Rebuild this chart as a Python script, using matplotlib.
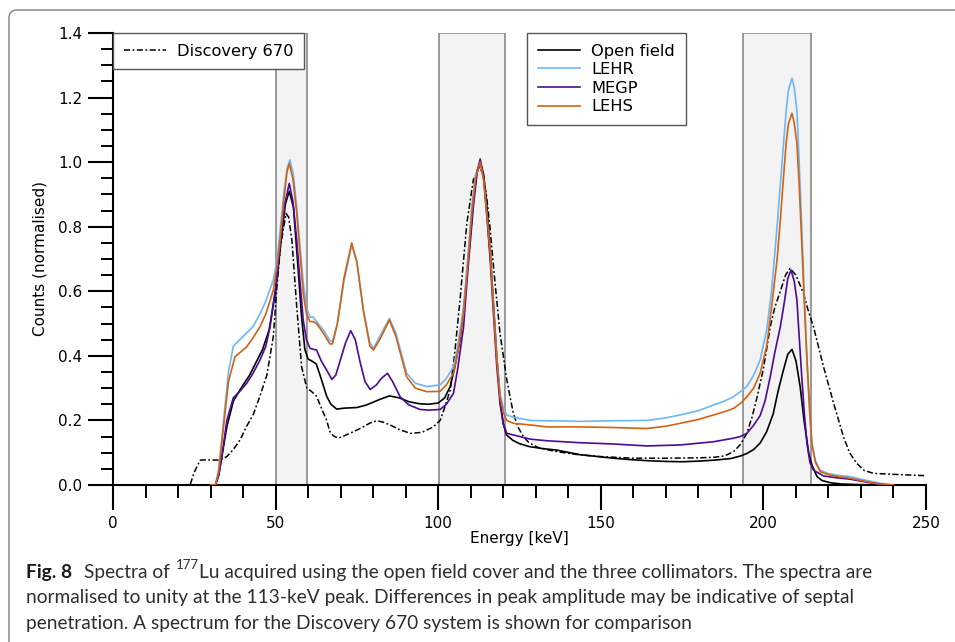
"""
Lu-177 spectra: open field vs three collimators, plus a Discovery 670 reference.
Values read off the published figure (normalised at the 113-keV peak).
"""
import matplotlib
matplotlib.use("Agg")
import matplotlib.pyplot as plt
from matplotlib.patches import Rectangle, FancyBboxPatch
from matplotlib.ticker import MultipleLocator

# --- data -------------------------------------------------------------------
open_e = [30, 31.5, 32.5, 33.5, 35, 37, 40, 42, 44, 46, 48, 50, 51.5, 53, 54.2,
          55.5, 57, 58, 59, 60, 61, 62.5, 64, 65.7, 67, 68.8, 71, 75, 78, 82,
          85, 88, 91, 94, 97, 100, 102, 103.7, 105, 106.7, 108, 109.8, 111,
          112, 113, 114, 115, 116, 117, 118, 119, 120, 121, 123, 125, 128, 132,
          136.5, 143.6, 150, 155, 160, 165, 170, 175, 180, 185, 190, 193, 195,
          197, 199, 201, 203, 204.5, 206, 207.5, 208.8, 210, 211.3, 212.5, 214,
          215, 216.5, 218, 220.6, 224, 230, 240]
open_v = [0, 0, 0.03, 0.09, 0.18, 0.26, 0.31, 0.34, 0.38, 0.42, 0.48, 0.6, 0.74,
          0.87, 0.91, 0.86, 0.66, 0.52, 0.42, 0.39, 0.385, 0.375, 0.33, 0.275,
          0.25, 0.235, 0.238, 0.24, 0.248, 0.265, 0.276, 0.27, 0.258, 0.252,
          0.25, 0.254, 0.27, 0.305, 0.36, 0.45, 0.56, 0.76, 0.9, 0.975, 1.0,
          0.96, 0.86, 0.72, 0.56, 0.4, 0.27, 0.19, 0.155, 0.138, 0.128, 0.119,
          0.113, 0.108, 0.094, 0.087, 0.082, 0.078, 0.075, 0.073, 0.072, 0.074,
          0.077, 0.082, 0.09, 0.098, 0.11, 0.13, 0.165, 0.22, 0.29, 0.35, 0.405,
          0.42, 0.385, 0.305, 0.2, 0.095, 0.06, 0.026, 0.014, 0.007, 0.003,
          0.001, 0]

lehr_e = [30, 31.5, 32.5, 34, 35.5, 37, 39, 41, 43, 45.2, 47, 49.3, 50.5, 51.4,
          52.5, 53.5, 54.4, 55.5, 56.5, 57.5, 58.5, 59.5, 60.6, 61.6, 62.6,
          64.7, 66.7, 67.5, 69, 71, 73.4, 75, 77, 79, 80.1, 82, 85, 87, 90.3,
          93, 96.5, 100.6, 102.5, 104.7, 106, 107.8, 109, 110.3, 111.5, 112.9,
          114, 115, 116, 117, 118, 119, 120, 121.1, 123.1, 128.3, 133.4, 143.6,
          153.9, 164.2, 170, 174.4, 180, 184.7, 188, 190.8, 193, 194.9, 197, 199,
          201, 202.5, 204.2, 205.2, 206.2, 207, 207.7, 208.8, 209.5, 210.3, 211,
          211.8, 212.6, 213.4, 214.2, 214.9, 216, 217.5, 220, 223, 226.7, 230,
          233.8, 237, 240]
lehr_v = [0, 0, 0.05, 0.2, 0.35, 0.43, 0.45, 0.47, 0.49, 0.53, 0.57, 0.635, 0.7,
          0.79, 0.9, 0.98, 1.007, 0.96, 0.86, 0.74, 0.625, 0.55, 0.52, 0.52,
          0.506, 0.48, 0.447, 0.445, 0.5, 0.63, 0.743, 0.69, 0.54, 0.44, 0.423,
          0.46, 0.516, 0.47, 0.346, 0.315, 0.305, 0.31, 0.33, 0.366, 0.43,
          0.552, 0.69, 0.862, 0.96, 1.0, 0.94, 0.83, 0.707, 0.55, 0.4, 0.284,
          0.24, 0.217, 0.21, 0.2, 0.199, 0.197, 0.199, 0.2, 0.208, 0.217, 0.23,
          0.248, 0.26, 0.273, 0.29, 0.305, 0.34, 0.387, 0.48, 0.6, 0.8, 0.93,
          1.058, 1.16, 1.223, 1.26, 1.23, 1.161, 1.0, 0.8, 0.58, 0.387, 0.23,
          0.129, 0.075, 0.046, 0.035, 0.03, 0.026, 0.018, 0.01, 0.003, 0]

megp_e = [30, 31.5, 32.5, 33.5, 35, 37, 39, 41.1, 43, 45.2, 47, 48.3, 50.3, 51.5,
          52.8, 54.2, 55.3, 56.5, 57.5, 58.5, 59.5, 60.6, 62.6, 64, 65.7, 67.3,
          68.5, 70, 71.5, 73.1, 74.5, 76, 77.5, 79.1, 81, 82.5, 84.4, 86, 88.3,
          91, 94.4, 97, 100.6, 102.5, 104.7, 106, 107.8, 109, 110.8, 112, 112.9,
          114, 115, 116, 117, 118, 119, 120, 121.1, 123.1, 128.3, 133.4, 143.6,
          153.9, 164.2, 174.4, 184.7, 190.8, 192.9, 194.9, 197, 199, 200.5,
          202.1, 203.5, 205.2, 206.5, 207.5, 208.5, 209.5, 210.3, 211, 211.8,
          212.6, 213.4, 214.3, 215.4, 218.5, 222, 226.7, 230, 234, 238, 240]
megp_v = [0, 0, 0.03, 0.09, 0.2, 0.27, 0.29, 0.315, 0.345, 0.387, 0.43, 0.49,
          0.635, 0.75, 0.87, 0.934, 0.88, 0.759, 0.63, 0.51, 0.45, 0.423, 0.418,
          0.385, 0.356, 0.327, 0.34, 0.39, 0.44, 0.478, 0.45, 0.38, 0.32, 0.296,
          0.31, 0.33, 0.346, 0.32, 0.273, 0.248, 0.234, 0.232, 0.234, 0.25,
          0.284, 0.36, 0.49, 0.65, 0.862, 0.97, 1.01, 0.95, 0.83, 0.697, 0.53,
          0.37, 0.253, 0.19, 0.16, 0.155, 0.142, 0.137, 0.131, 0.127, 0.121,
          0.124, 0.134, 0.145, 0.15, 0.16, 0.185, 0.215, 0.26, 0.335, 0.41,
          0.49, 0.57, 0.64, 0.666, 0.63, 0.573, 0.46, 0.335, 0.22, 0.129, 0.07,
          0.046, 0.028, 0.023, 0.018, 0.012, 0.005, 0.001, 0]

lehs_e = [30, 31.5, 32.5, 34, 35.5, 37.5, 39, 41.1, 43, 45.2, 47, 49.3, 50.5,
          51.4, 52.5, 53.5, 54.2, 55.3, 56.5, 57.5, 58.5, 59.5, 60.6, 61.6,
          62.6, 64.7, 66.7, 67.5, 69, 71, 73.4, 75, 77, 79, 80.1, 82, 85, 87,
          90.3, 93, 96.5, 100.6, 102.5, 104.7, 106, 107.8, 109, 110.3, 111.5,
          112.9, 114, 115, 116, 117, 118, 119, 120, 121.1, 123.1, 128.3, 133.4,
          143.6, 153.9, 164.2, 170, 174.4, 180, 184.7, 188, 190.8, 193, 194.9,
          197, 199, 201, 202.5, 204.2, 205.2, 206.2, 207, 207.7, 208.8, 209.5,
          210.3, 211, 211.8, 212.6, 213.4, 214.2, 214.9, 216, 217.5, 220, 223,
          226.7, 230, 234.5, 238, 240]
lehs_v = [0, 0, 0.04, 0.18, 0.32, 0.397, 0.41, 0.428, 0.455, 0.49, 0.53, 0.604,
          0.68, 0.759, 0.88, 0.97, 0.995, 0.95, 0.841, 0.72, 0.594, 0.53, 0.506,
          0.506, 0.5, 0.47, 0.437, 0.437, 0.5, 0.64, 0.75, 0.69, 0.54, 0.43,
          0.418, 0.45, 0.511, 0.46, 0.335, 0.3, 0.289, 0.29, 0.31, 0.346, 0.41,
          0.532, 0.67, 0.841, 0.95, 1.0, 0.945, 0.835, 0.717, 0.55, 0.39, 0.274,
          0.225, 0.2, 0.191, 0.186, 0.18, 0.18, 0.178, 0.175, 0.182, 0.191,
          0.203, 0.217, 0.227, 0.237, 0.253, 0.273, 0.3, 0.346, 0.43, 0.55,
          0.697, 0.82, 0.955, 1.06, 1.12, 1.151, 1.12, 1.058, 0.93, 0.749, 0.56,
          0.387, 0.24, 0.129, 0.07, 0.041, 0.032, 0.026, 0.021, 0.014, 0.005,
          0.001, 0]

disc_e = [20, 23.7, 25, 26.8, 29, 32.9, 35, 37, 39.1, 41, 43.2, 45, 47.3, 49.3,
          50.3, 51.5, 53.2, 54, 55, 56.5, 58, 59.6, 61, 62.6, 64, 65.7, 66.7,
          67.8, 69.3, 71, 73.9, 77, 79, 81.1, 83, 85.2, 88, 91.4, 95, 98.5,
          100.6, 102, 103.7, 105, 106.7, 108.8, 110.8, 112.7, 113.8, 114.9, 116,
          117, 119, 121.1, 123.1, 124.5, 126.2, 128, 131, 136, 143, 150, 160,
          170, 180, 185, 188, 190.8, 192.9, 194.9, 196.5, 198, 200, 202.1, 203.5,
          205.2, 206.8, 208.2, 210, 212.3, 213.8, 215.4, 218.5, 221.6, 224.6,
          226.5, 228.7, 231, 233.9, 240, 245, 249.5]
disc_v = [0, 0, 0.04, 0.077, 0.078, 0.077, 0.088, 0.11, 0.14, 0.18, 0.22, 0.27,
          0.34, 0.46, 0.6, 0.74, 0.841, 0.83, 0.759, 0.552, 0.366, 0.3, 0.29,
          0.275, 0.24, 0.2, 0.165, 0.152, 0.145, 0.152, 0.165, 0.18, 0.192,
          0.199, 0.195, 0.186, 0.172, 0.16, 0.163, 0.18, 0.2, 0.24, 0.294, 0.4,
          0.573, 0.81, 0.945, 0.986, 0.96, 0.893, 0.79, 0.676, 0.47, 0.325,
          0.222, 0.18, 0.15, 0.13, 0.115, 0.104, 0.094, 0.088, 0.083, 0.083,
          0.084, 0.086, 0.09, 0.103, 0.125, 0.16, 0.21, 0.27, 0.36, 0.49, 0.55,
          0.6, 0.65, 0.671, 0.65, 0.594, 0.54, 0.49, 0.366, 0.253, 0.15, 0.1,
          0.067, 0.045, 0.036, 0.033, 0.031, 0.029]

# energy windows shaded on the plot (keV)
windows = [(50, 59.7), (100.2, 120.5), (193.8, 214.6)]

series = [
    ("Open field", open_e, open_v, "#000000"),
    ("LEHR", lehr_e, lehr_v, "#6cb6fa"),
    ("MEGP", megp_e, megp_v, "#4b0a98"),
    ("LEHS", lehs_e, lehs_v, "#d4620f"),
]

# --- figure -----------------------------------------------------------------
fig = plt.figure(figsize=(9.55, 6.42), dpi=100)
ax = fig.add_axes([113 / 955, 1 - 485 / 642, 813 / 955, 452 / 642])

for lo, hi in windows:
    ax.add_patch(Rectangle((lo, 0), hi - lo, 1.4, facecolor="#f3f3f3",
                           edgecolor="#808080", lw=1.1, zorder=0))

disc_line, = ax.plot(disc_e, disc_v, color="black", lw=1.1,
                     ls=(0, (4, 1.6, 1.2, 1.6)), zorder=2)
handles = []
for name, e, v, c in series:
    h, = ax.plot(e, v, color=c, lw=1.2, label=name, zorder=3)
    handles.append(h)

ax.set_xlim(0, 250)
ax.set_ylim(0, 1.4)
ax.xaxis.set_major_locator(MultipleLocator(50))
ax.xaxis.set_minor_locator(MultipleLocator(10))
ax.yaxis.set_major_locator(MultipleLocator(0.2))
ax.yaxis.set_minor_locator(MultipleLocator(0.05))
ax.yaxis.set_major_formatter(plt.FormatStrFormatter("%.1f"))

for side in ("top", "right"):
    ax.spines[side].set_visible(False)
for side in ("left", "bottom"):
    ax.spines[side].set_linewidth(1.5)
ax.tick_params(which="major", length=18, width=1.5, labelsize=11, pad=4)
ax.tick_params(which="minor", length=9, width=1.4)

ax.set_xlabel("Energy [keV]", fontsize=11, labelpad=0)
ax.set_ylabel("Counts (normalised)", fontsize=11, labelpad=8)

leg_kw = dict(fontsize=11.7, frameon=True, fancybox=False, framealpha=1,
              edgecolor="#555555", borderpad=0.65, handlelength=2.6,
              handletextpad=0.7, labelspacing=0.22, borderaxespad=0)
leg1 = ax.legend([disc_line], ["Discovery 670"], loc="upper left",
                 bbox_to_anchor=(0, 1), **leg_kw)
leg1.get_frame().set_linewidth(1.0)
ax.add_artist(leg1)
leg2 = ax.legend(handles=handles, loc="upper left",
                 bbox_to_anchor=((527 - 113) / 813, 1), **leg_kw)
leg2.get_frame().set_linewidth(1.0)

# --- caption and outer frame -------------------------------------------------
cap_font = "Lato"
cap_size = 13.8
cap_col = "#2e2e2e"


def fy(py):
    return 1 - py / 642


fig.text(26 / 955, fy(578), "Fig. 8", fontsize=cap_size, fontweight="bold",
         family=cap_font, color="#1a1a1a", va="baseline")
fig.text(84 / 955, fy(578), "Spectra of", fontsize=cap_size, family=cap_font,
         color=cap_col, va="baseline")
fig.text(176 / 955, fy(569), "177", fontsize=9.5, family=cap_font,
         color=cap_col, va="baseline")
fig.text(199 / 955, fy(578),
         "Lu acquired using the open field cover and the three collimators. "
         "The spectra are", fontsize=cap_size, family=cap_font, color=cap_col,
         va="baseline")
fig.text(26 / 955, fy(603.5),
         "normalised to unity at the 113-keV peak. Differences in peak "
         "amplitude may be indicative of septal", fontsize=cap_size,
         family=cap_font, color=cap_col, va="baseline")
fig.text(26 / 955, fy(629),
         "penetration. A spectrum for the Discovery 670 system is shown for "
         "comparison", fontsize=cap_size, family=cap_font, color=cap_col,
         va="baseline")

frame = FancyBboxPatch((0.09, -1.0), 10.0, 7.32,
                       boxstyle="round,pad=0,rounding_size=0.08",
                       transform=fig.dpi_scale_trans, facecolor="none",
                       edgecolor="#8a8a8a", lw=1.1)
fig.add_artist(frame)

fig.savefig("out.png", dpi=100)
